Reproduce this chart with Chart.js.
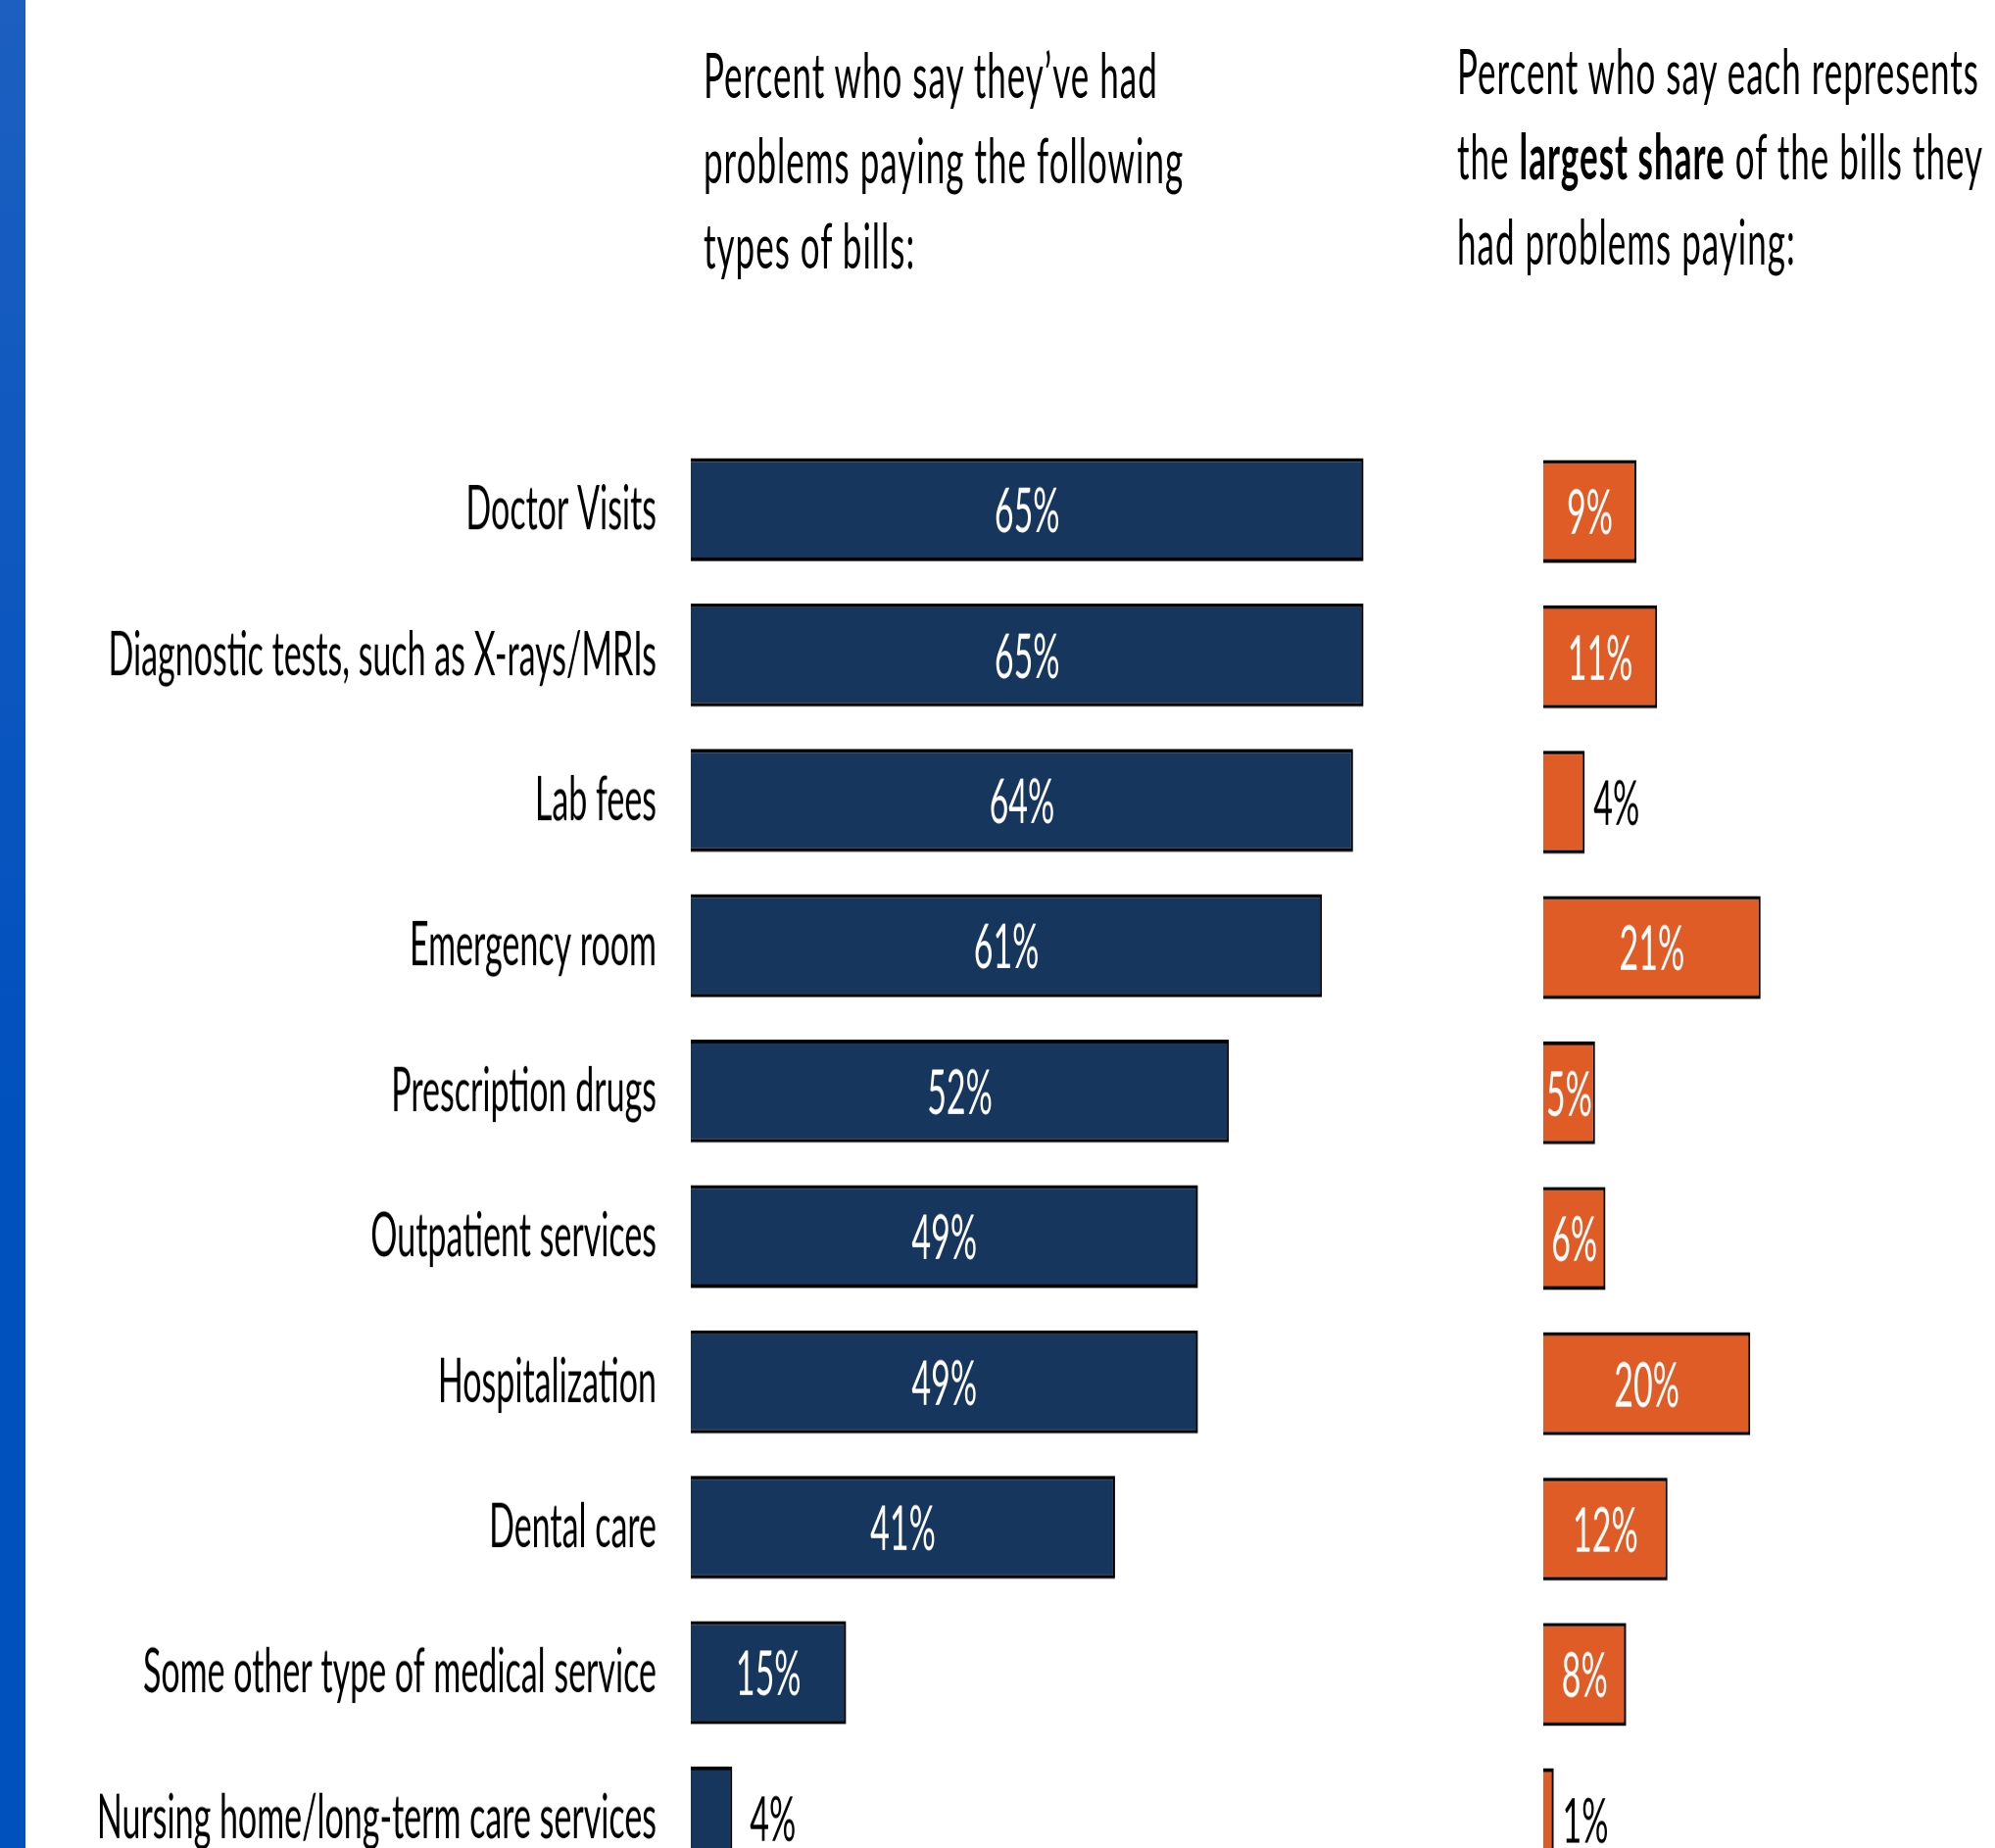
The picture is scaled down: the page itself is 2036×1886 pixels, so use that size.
<!DOCTYPE html>
<html>
<head>
<meta charset="utf-8">
<script src="https://cdn.jsdelivr.net/npm/chart.js@4.4.1/dist/chart.umd.min.js"></script>
<style>
    html, body { margin: 0; padding: 0; overflow: hidden; background: #fff; }
    body { width: 2036px; height: 1886px; }
    /* the source picture is stretched vertically, so the page is laid out flat and scaled */
    #page {
        position: absolute; left: 0; top: 0;
        width: 2036px; height: 1020px;
        transform: scaleY(1.85); transform-origin: 0 0;
        font-family: Lato, sans-serif;
    }
    #strip {
        position: absolute; left: 0; top: 0; width: 26px; height: 1020px;
        background: linear-gradient(to bottom, #1c5fc0, #0050be 60%, #0050be);
    }
    .title {
        position: absolute; font-size: 35px; line-height: 47px; letter-spacing: 1px;
        color: #000; white-space: nowrap;
    }
    #title1 { left: 718px; top: 17px; }
    #title2 { left: 1487px; top: 15px; }
    .box { position: absolute; }
    #leftBox { left: 0; top: 240.7px; width: 1497px; height: 802px; }
    #rightBox { left: 1575px; top: 242.2px; width: 461px; height: 802px; }
</style>
</head>
<body>
<div id="page">
    <div id="strip"></div>
    <div class="title" id="title1">Percent who say they’ve had<br>problems paying the following<br>types of bills:</div>
    <div class="title" id="title2">Percent who say each represents<br>the <b>largest share</b> of the bills they<br>had problems paying:</div>
    <div class="box" id="leftBox"><canvas id="leftChart"></canvas></div>
    <div class="box" id="rightBox"><canvas id="rightChart"></canvas></div>
</div>
<script>
// Bill types, top to bottom
const categories = [
    'Doctor Visits',
    'Diagnostic tests, such as X-rays/MRIs',
    'Lab fees',
    'Emergency room',
    'Prescription drugs',
    'Outpatient services',
    'Hospitalization',
    'Dental care',
    'Some other type of medical service',
    'Nursing home/long-term care services'
];

// Percent who had problems paying each type
const hadProblems = [65, 65, 64, 61, 52, 49, 49, 41, 15, 4];

// Percent who say each is the largest share
const largestShare = [9, 11, 4, 21, 5, 6, 20, 12, 8, 1];

const PX_PER_PCT = 10.56;
const LABEL_FONT = '34px Lato';

// Draw the percent labels, inside the bar or just past its end when the bar is small
const valueLabels = {
    id: 'valueLabels',
    afterDatasetsDraw(chart, args, opts) {
        const ctx = chart.ctx;
        const values = chart.data.datasets[0].data;
        ctx.save();
        ctx.font = LABEL_FONT;
        ctx.textBaseline = 'middle';
        chart.getDatasetMeta(0).data.forEach(function(bar, i) {
            const v = values[i];
            if (v >= 5) {
                ctx.fillStyle = '#ffffff';
                ctx.textAlign = 'center';
                ctx.fillText(v + '%', (bar.base + bar.x) / 2, bar.y + 1.5);
            } else {
                ctx.fillStyle = '#000000';
                ctx.textAlign = 'left';
                ctx.fillText(v + '%', bar.x + opts.gap, bar.y + 1.5);
            }
        });
        ctx.restore();
    }
};

function makeChart(id, values, color, showLabels, width, gap) {
    const ctx = document.getElementById(id).getContext('2d');
    const labelWidth = showLabels ? 705 : 0;
    return new Chart(ctx, {
        type: 'bar',
        data: {
            labels: categories,
            datasets: [{
                data: values,
                backgroundColor: color,
                borderColor: '#000000',
                borderWidth: 2,
                borderSkipped: 'start',
                barPercentage: 0.708,
                categoryPercentage: 1
            }]
        },
        options: {
            indexAxis: 'y',
            responsive: true,
            maintainAspectRatio: false,
            devicePixelRatio: 2,
            animation: false,
            layout: { padding: 0 },
            scales: {
                x: {
                    display: false,
                    min: 0,
                    max: (width - labelWidth) / PX_PER_PCT
                },
                y: {
                    display: showLabels,
                    grid: { display: false, drawTicks: false },
                    border: { display: false },
                    ticks: {
                        autoSkip: false,
                        padding: 35,
                        color: '#000000',
                        font: { family: 'Lato', size: 34 }
                    },
                    afterFit: function(scale) {
                        // fixed label column; no extra room above/below the rows
                        scale.width = labelWidth;
                        scale.paddingTop = 0;
                        scale.paddingBottom = 0;
                    }
                }
            },
            plugins: {
                legend: { display: false },
                tooltip: { enabled: false },
                valueLabels: { gap: gap }
            }
        },
        plugins: [valueLabels]
    });
}

document.addEventListener('DOMContentLoaded', function() {
    makeChart('leftChart', hadProblems, '#17365D', true, 1497, 18);
    makeChart('rightChart', largestShare, '#E05C27', false, 461, 9);
});
</script>
</body>
</html>
